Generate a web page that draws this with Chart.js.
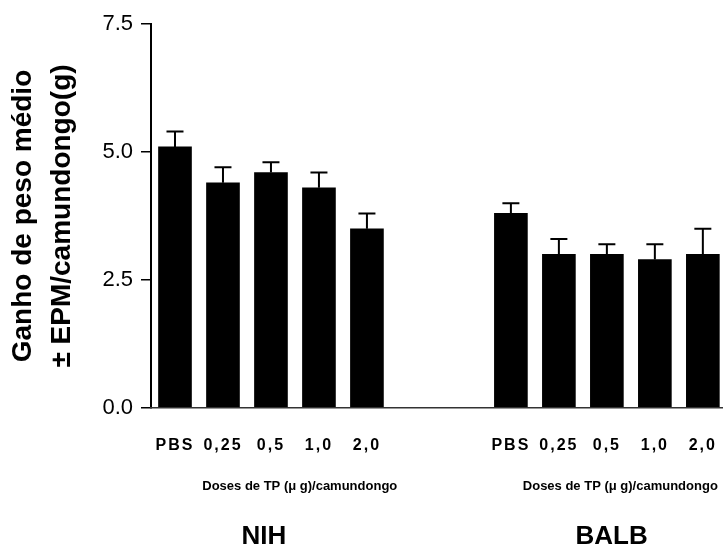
<!DOCTYPE html>
<html>
<head>
<meta charset="utf-8">
<script src="https://cdn.jsdelivr.net/npm/chart.js@4.4.1/dist/chart.umd.min.js"></script>
<style>
  html, body { margin: 0; padding: 0; background: #fff; }
  #wrap { width: 723px; height: 548px; }
</style>
</head>
<body>
<div id="wrap"><canvas id="chart1"></canvas></div>
<script>
// data
const groups = ["NIH", "BALB"];
const doseLabels = ["PBS", "0,25", "0,5", "1,0", "2,0"];
const nihMeans = [5.1, 4.4, 4.6, 4.3, 3.5];
const nihSem = [0.3, 0.3, 0.2, 0.3, 0.3];
const balbMeans = [3.8, 3.0, 3.0, 2.9, 3.0];
const balbSem = [0.2, 0.3, 0.2, 0.3, 0.5];
const yTicks = [0, 2.5, 5, 7.5];
const xTitle = "Doses de TP (\u03bc g)/camundongo";
const yTitle = ["Ganho de peso m\u00e9dio", "\u00b1 EPM/camundongo(g)"];

const FONT = "'Liberation Sans', Arial, sans-serif";
const gapSlots = 2; // empty slots between the two groups

// slot index of every bar on the x axis
const nihSlots = doseLabels.map((_, i) => i);
const balbSlots = doseLabels.map((_, i) => i + doseLabels.length + gapSlots);
const allSlots = nihSlots.concat(balbSlots);
const slotLabel = {};
nihSlots.forEach((s, i) => slotLabel[s] = doseLabels[i]);
balbSlots.forEach((s, i) => slotLabel[s] = doseLabels[i]);

const errorBars = {
  id: "errorBars",
  afterDatasetsDraw(chart) {
    const ctx = chart.ctx;
    const yScale = chart.scales.y;
    const sems = [nihSem, balbSem];
    const means = [nihMeans, balbMeans];
    ctx.save();
    ctx.strokeStyle = "#000";
    ctx.lineWidth = 2;
    chart.data.datasets.forEach((ds, d) => {
      chart.getDatasetMeta(d).data.forEach((bar, i) => {
        const top = yScale.getPixelForValue(means[d][i] + sems[d][i]);
        ctx.beginPath();
        ctx.moveTo(bar.x, bar.y);
        ctx.lineTo(bar.x, top);
        ctx.moveTo(bar.x - 8.5, top);
        ctx.lineTo(bar.x + 8.5, top);
        ctx.stroke();
      });
    });
    ctx.restore();
    // x tick labels are drawn next (ticks.z = 1) with a wider tracking
    ctx.letterSpacing = "2px";
  },
  afterDraw(chart) {
    const ctx = chart.ctx;
    ctx.letterSpacing = "0px";
    const x = chart.scales.x;
    ctx.save();
    ctx.fillStyle = "#000";
    ctx.textAlign = "center";
    ctx.textBaseline = "middle";
    const centres = [
      { title: 2.6, name: 1.85 },
      { title: 9.28, name: 9.1 }
    ];
    groups.forEach((g, k) => {
      ctx.font = "bold 13px " + FONT;
      ctx.fillText(xTitle, x.getPixelForValue(centres[k].title), 486);
      ctx.font = "bold 26px " + FONT;
      ctx.fillText(g, x.getPixelForValue(centres[k].name), 537);
    });
    ctx.restore();
  }
};

function drawChart1() {
  const ctx = document.getElementById("chart1").getContext("2d");
  new Chart(ctx, {
    type: "bar",
    data: {
      datasets: [
        {
          label: groups[0],
          data: nihSlots.map((s, i) => ({ x: s, y: nihMeans[i] })),
          backgroundColor: "#000"
        },
        {
          label: groups[1],
          data: balbSlots.map((s, i) => ({ x: s, y: balbMeans[i] })),
          backgroundColor: "#000"
        }
      ]
    },
    options: {
      responsive: true,
      maintainAspectRatio: false,
      animation: false,
      events: [],
      layout: { padding: { top: 24, right: 0, bottom: 0, left: 0 } },
      datasets: { bar: { barThickness: 33, grouped: false, borderWidth: 0 } },
      scales: {
        x: {
          type: "linear",
          offset: false,
          min: -0.5,
          max: 11.42,
          afterBuildTicks: (s) => { s.ticks = allSlots.map(v => ({ value: v })); },
          afterFit: (s) => { s.height = 140; s.paddingLeft = 0; s.paddingRight = 0; },
          grid: { display: false },
          border: { display: true, color: "#333", width: 1.5, z: 1 },
          ticks: {
            z: 1,
            color: "#000",
            padding: 20,
            maxRotation: 0,
            autoSkip: false,
            font: { family: FONT, size: 16, weight: "bold" },
            callback: (v) => slotLabel[v] ?? ""
          }
        },
        y: {
          min: 0,
          max: 7.5,
          afterBuildTicks: (s) => { s.ticks = yTicks.map(v => ({ value: v })); },
          afterFit: (s) => { s.width = 151; },
          grid: { drawOnChartArea: false, drawTicks: true, tickLength: 10, color: "#000", lineWidth: 1.5 },
          border: { display: true, color: "#000", width: 2 },
          ticks: {
            color: "#000",
            padding: 8,
            font: { family: FONT, size: 22 },
            callback: (v) => Number(v).toFixed(1)
          },
          title: {
            display: true,
            text: yTitle,
            color: "#000",
            padding: { top: 4, bottom: 0 },
            font: { family: FONT, size: 28, weight: "bold", lineHeight: 1.39 }
          }
        }
      },
      plugins: {
        legend: { display: false },
        tooltip: { enabled: false }
      }
    },
    plugins: [errorBars]
  });
}

drawChart1();
</script>
</body>
</html>
